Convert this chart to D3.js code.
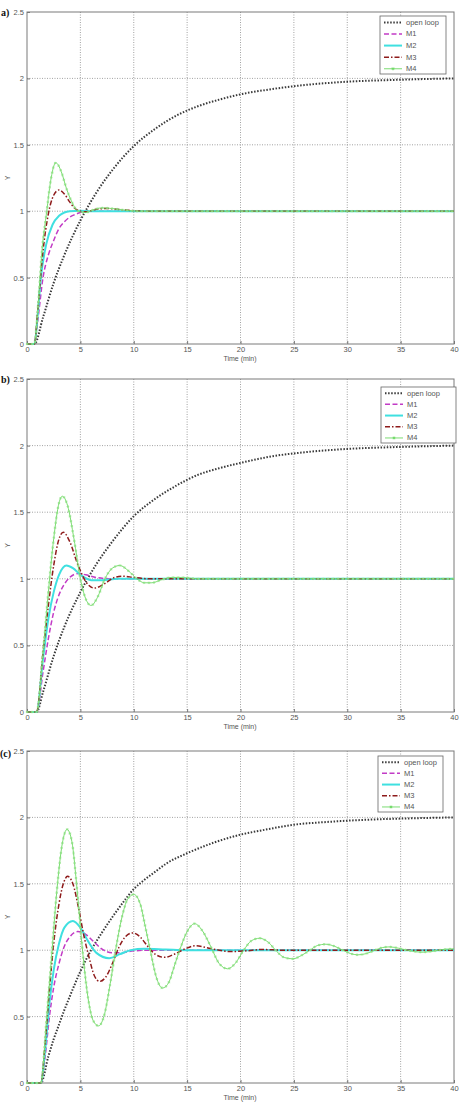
<!DOCTYPE html>
<html><head><meta charset="utf-8">
<script src="https://cdn.jsdelivr.net/npm/d3@7"></script>
<style>body{margin:0;background:#fff}svg{display:block}</style></head>
<body><svg id="chart" width="460" height="1104"></svg>
<script>
// ---------- data ----------
const seriesNames = ["open loop", "M1", "M2", "M3", "M4"];
const xTicks = [0, 5, 10, 15, 20, 25, 30, 35, 40];
const yTicks = [0, 0.5, 1, 1.5, 2, 2.5];
const yTickLabels = ["0", "0.5", "1", "1.5", "2", "2.5"];
const panelLabels = ["a)", "b)", "(c)"];
const xLabel = "Time (min)";
const yLabel = "Y";

// panel (a): [time, value]
const aOpen = [[0,0],[0.7,0],[1.5,0.2],[2.5,0.46],[3.5,0.67],[5,0.93],[6.5,1.14],[8,1.31],[10,1.49],[12,1.62],[14,1.72],[16,1.79],[18,1.84],[20,1.88],[23,1.92],[26,1.95],[30,1.975],[35,1.99],[40,2.0]];
const aM1 = [[0,0],[0.7,0],[1,0.17],[1.5,0.5],[2,0.67],[2.5,0.78],[3,0.87],[3.5,0.92],[4,0.955],[4.5,0.975],[5,0.99],[5.5,1.0],[8,1.0],[40,1.0]];
const aM2 = [[0,0],[0.7,0],[1,0.22],[1.3,0.5],[1.8,0.75],[2.4,0.9],[3,0.965],[3.5,0.99],[4,1.0],[5,1.004],[6,1.0],[40,1.0]];
const aM3 = [[0,0],[0.7,0],[1,0.25],[1.5,0.7],[2,0.98],[2.5,1.12],[3,1.16],[3.5,1.13],[4,1.07],[4.5,1.02],[5,1.0],[5.5,0.995],[6.5,1.015],[7.5,1.02],[9,1.01],[11,1.0],[40,1.0]];
const aM4 = [[0,0],[0.7,0],[1,0.25],[1.4,0.7],[1.85,1.0],[2.2,1.22],[2.7,1.365],[3.2,1.3],[3.7,1.17],[4.2,1.07],[4.8,1.0],[5.5,0.99],[6.2,1.01],[7,1.025],[8,1.02],[9,1.01],[10.5,1.0],[40,1.0]];

// panel (b)
const bOpen = [[0,0],[0.9,0],[1.5,0.15],[2.5,0.42],[3.5,0.64],[5,0.9],[6.5,1.11],[8,1.28],[10,1.47],[12,1.6],[14,1.7],[16,1.78],[18,1.83],[20,1.87],[23,1.92],[26,1.95],[30,1.975],[35,1.99],[40,2.0]];
const bM1 = [[0,0],[0.9,0],[1.5,0.3],[2,0.55],[2.5,0.75],[3,0.88],[3.5,0.96],[4,1.01],[4.8,1.04],[5.5,1.03],[6.5,1.01],[8,1.0],[40,1.0]];
const bM2 = [[0,0],[0.9,0],[1.5,0.4],[2,0.7],[2.5,0.9],[3,1.03],[3.7,1.1],[4.3,1.08],[5,1.03],[6,0.99],[7,0.99],[8.5,1.0],[40,1.0]];
const bM3 = [[0,0],[0.9,0],[1.5,0.45],[2,0.8],[2.5,1.1],[3,1.3],[3.4,1.35],[4,1.28],[4.7,1.12],[5.5,0.98],[6.3,0.93],[7.2,0.96],[8.2,1.01],[9,1.02],[10,1.01],[11.5,1.0],[40,1.0]];
const bM4 = [[0,0],[0.9,0],[1.5,0.45],[2,0.9],[2.5,1.3],[3,1.57],[3.3,1.62],[3.8,1.55],[4.4,1.3],[5,1.0],[5.5,0.85],[6,0.8],[6.6,0.86],[7.3,1.0],[8,1.08],[8.7,1.1],[9.5,1.06],[10.3,1.0],[11,0.97],[11.7,0.97],[12.5,0.99],[13.5,1.01],[14.5,1.01],[16,1.0],[40,1.0]];

// panel (c)
const cOpen = [[0,0],[1.3,0],[2,0.2],[2.5,0.33],[3,0.44],[3.5,0.55],[4,0.65],[5,0.84],[6,1.0],[7,1.13],[8,1.25],[9,1.36],[10,1.46],[11,1.53],[12,1.59],[13,1.65],[15,1.73],[17.5,1.81],[20,1.87],[22.5,1.91],[25,1.945],[28,1.965],[32,1.983],[36,1.993],[40,2.0]];
const cM1 = [[0,0],[1.3,0],[1.7,0.2],[2.1,0.5],[2.5,0.72],[3,0.9],[3.5,1.03],[4,1.1],[4.75,1.14],[5.5,1.12],[6.3,1.06],[7,1.01],[8,0.98],[8.8,0.98],[10,0.995],[11.5,1.0],[40,1.0]];
const cM2 = [[0,0],[1.3,0],[1.7,0.25],[2.1,0.6],[2.5,0.85],[3,1.05],[3.5,1.17],[4.3,1.22],[5,1.17],[5.7,1.07],[6.5,0.98],[7.7,0.94],[8.7,0.97],[9.7,1.0],[11,1.01],[13,1.005],[15,1.0],[40,1.0]];
const cM3 = [[0,0],[1.3,0],[1.7,0.3],[2.1,0.7],[2.5,1.05],[3,1.35],[3.4,1.5],[3.8,1.556],[4.3,1.5],[4.8,1.33],[5.3,1.12],[5.8,0.95],[6.3,0.81],[6.8,0.765],[7.4,0.8],[8,0.9],[8.6,1.02],[9.2,1.1],[9.9,1.13],[10.6,1.1],[11.3,1.03],[12,0.97],[12.9,0.946],[13.8,0.97],[14.8,1.01],[15.8,1.034],[16.8,1.02],[18,1.0],[19,0.99],[20.5,0.995],[22,1.005],[24,1.0],[40,1.0]];
const cM4 = [[0,0],[1.3,0],[1.8,0.45],[2.3,0.95],[2.8,1.45],[3.3,1.8],[3.75,1.91],[4.2,1.82],[4.7,1.45],[5.2,1.0],[5.7,0.65],[6.2,0.47],[6.7,0.43],[7.2,0.5],[7.8,0.75],[8.3,1.0],[8.9,1.25],[9.4,1.38],[10,1.42],[10.6,1.35],[11.1,1.17],[11.6,0.98],[12.1,0.8],[12.7,0.715],[13.3,0.76],[13.8,0.88],[14.3,1.0],[15,1.14],[15.7,1.2],[16.4,1.15],[17.2,1.03],[18,0.9],[18.8,0.86],[19.5,0.9],[20.3,1.0],[21,1.07],[21.8,1.09],[22.6,1.06],[23.4,0.99],[24.1,0.945],[24.9,0.935],[25.7,0.96],[26.5,1.0],[27.2,1.035],[28,1.045],[28.8,1.03],[29.6,1.0],[30.3,0.975],[31,0.965],[31.8,0.975],[32.6,1.0],[33.3,1.02],[34,1.025],[34.8,1.015],[35.6,1.0],[36.3,0.99],[37,0.985],[37.8,0.99],[38.6,1.0],[39.3,1.008],[40,1.01]];

// ---------- layout / style ----------
const panels = [
  {label: panelLabels[0], top: 12, bottom: 344, series: [aOpen, aM1, aM2, aM3, aM4], legend: {x: 380, y: 16, w: 66, h: 58}, labelPos: [1, 16]},
  {label: panelLabels[1], top: 379, bottom: 712, series: [bOpen, bM1, bM2, bM3, bM4], legend: {x: 381, y: 387, w: 75, h: 56}, labelPos: [1, 383]},
  {label: panelLabels[2], top: 751, bottom: 1083, series: [cOpen, cM1, cM2, cM3, cM4], legend: {x: 378, y: 756, w: 65, h: 56}, labelPos: [0, 757]}
];
const left = 27, right = 454;
const styles = [
  {stroke: "#3a3a3a", width: 2.0, dash: "1.5,1.6"},
  {stroke: "#c23bc6", width: 1.5, dash: "5,2.5"},
  {stroke: "#3fe0e0", width: 2.0, dash: null},
  {stroke: "#8e1b1b", width: 1.5, dash: "5,2,1.5,2"},
  {stroke: "#6cd862", width: 0.9, dash: null}
];
const tickFont = "'Liberation Sans Narrow','Liberation Sans',Arial,sans-serif";

const svg = d3.select("#chart");

panels.forEach(p => {
  const x = d3.scaleLinear().domain([0, 40]).range([left, right]);
  const y = d3.scaleLinear().domain([0, 2.5]).range([p.bottom, p.top]);
  const g = svg.append("g");

  // grid
  g.append("g").selectAll("line").data(xTicks.slice(1, -1)).join("line")
    .attr("x1", d => x(d)).attr("x2", d => x(d)).attr("y1", p.top).attr("y2", p.bottom)
    .attr("stroke", "#8a8a8a").attr("stroke-width", 0.8).attr("stroke-dasharray", "1,1.5");
  g.append("g").selectAll("line").data(yTicks.slice(1, -1)).join("line")
    .attr("y1", d => y(d)).attr("y2", d => y(d)).attr("x1", left).attr("x2", right)
    .attr("stroke", "#8a8a8a").attr("stroke-width", 0.8).attr("stroke-dasharray", "1,1.5");

  // axes using d3 axes
  const xAxis = d3.axisBottom(x).tickValues(xTicks).tickSize(-3).tickPadding(3).tickFormat(d3.format("d"));
  const yAxis = d3.axisLeft(y).tickValues(yTicks).tickSize(-3).tickPadding(3).tickFormat((d, i) => yTickLabels[i]);
  const xa = g.append("g").attr("transform", `translate(0,${p.bottom})`).call(xAxis);
  const ya = g.append("g").attr("transform", `translate(${left},0)`).call(yAxis);
  [xa, ya].forEach(a => {
    a.select(".domain").remove();
    a.selectAll(".tick line").attr("stroke", "#777");
    a.selectAll(".tick text").attr("font-family", tickFont).attr("font-size", 7.5).attr("fill", "#555");
  });
  // box
  g.append("rect").attr("x", left).attr("y", p.top).attr("width", right - left).attr("height", p.bottom - p.top)
    .attr("fill", "none").attr("stroke", "#7a7a7a").attr("stroke-width", 1);

  // axis labels
  g.append("text").attr("x", 240).attr("y", p.bottom + 17).attr("text-anchor", "middle")
    .attr("font-family", tickFont).attr("font-size", 7).attr("fill", "#555").text(xLabel);
  g.append("text").attr("transform", `translate(10,${(p.top + p.bottom) / 2}) rotate(-90)`).attr("text-anchor", "middle")
    .attr("font-family", tickFont).attr("font-size", 7).attr("fill", "#555").text(yLabel);

  // panel label
  g.append("text").attr("x", p.labelPos[0]).attr("y", p.labelPos[1]).attr("font-family", "'Liberation Serif','DejaVu Serif',serif")
    .attr("font-weight", "bold").attr("font-size", 10).attr("fill", "#111").text(p.label);

  // series
  const line = d3.line().x(d => x(d[0])).y(d => y(d[1])).curve(d3.curveMonotoneX);
  const sg = g.append("g");
  p.series.forEach((s, i) => {
    const st = styles[i];
    const path = sg.append("path").datum(s).attr("d", line).attr("fill", "none")
      .attr("stroke", st.stroke).attr("stroke-width", st.width);
    if (st.dash) path.attr("stroke-dasharray", st.dash);
    if (i === 4) {
      const node = path.node();
      const L = node.getTotalLength();
      const pts = [];
      for (let l = 0; l <= L; l += 5) pts.push(node.getPointAtLength(l));
      const mk = sg.append("g").attr("stroke", "#8de083").attr("stroke-width", 0.6).attr("fill", "none");
      const r = 1.3;
      pts.forEach(pt => {
        mk.append("path").attr("d", `M${pt.x - r},${pt.y}L${pt.x + r},${pt.y}M${pt.x},${pt.y - r}L${pt.x},${pt.y + r}M${pt.x - r * 0.7},${pt.y - r * 0.7}L${pt.x + r * 0.7},${pt.y + r * 0.7}M${pt.x - r * 0.7},${pt.y + r * 0.7}L${pt.x + r * 0.7},${pt.y - r * 0.7}`);
      });
    }
  });

  // legend
  const lg = g.append("g");
  const L = p.legend;
  lg.append("rect").attr("x", L.x).attr("y", L.y).attr("width", L.w).attr("height", L.h)
    .attr("fill", "#fff").attr("stroke", "#666").attr("stroke-width", 0.8);
  const step = L.h / 5;
  seriesNames.forEach((name, i) => {
    const yy = L.y + step * (i + 0.55);
    const st = styles[i];
    const ln = lg.append("line").attr("x1", L.x + 4).attr("x2", L.x + 22).attr("y1", yy).attr("y2", yy)
      .attr("stroke", st.stroke).attr("stroke-width", st.width);
    if (st.dash) ln.attr("stroke-dasharray", st.dash);
    if (i === 4) {
      const cx = L.x + 13, r = 1.6;
      lg.append("path").attr("d", `M${cx - r},${yy}L${cx + r},${yy}M${cx},${yy - r}L${cx},${yy + r}M${cx - 1.1},${yy - 1.1}L${cx + 1.1},${yy + 1.1}M${cx - 1.1},${yy + 1.1}L${cx + 1.1},${yy - 1.1}`)
        .attr("stroke", st.stroke).attr("stroke-width", 0.7);
    }
    lg.append("text").attr("x", L.x + 26).attr("y", yy + 2.5).attr("font-family", tickFont).attr("font-size", 7.5)
      .attr("fill", "#555").text(name);
  });
});
</script>
</body></html>
